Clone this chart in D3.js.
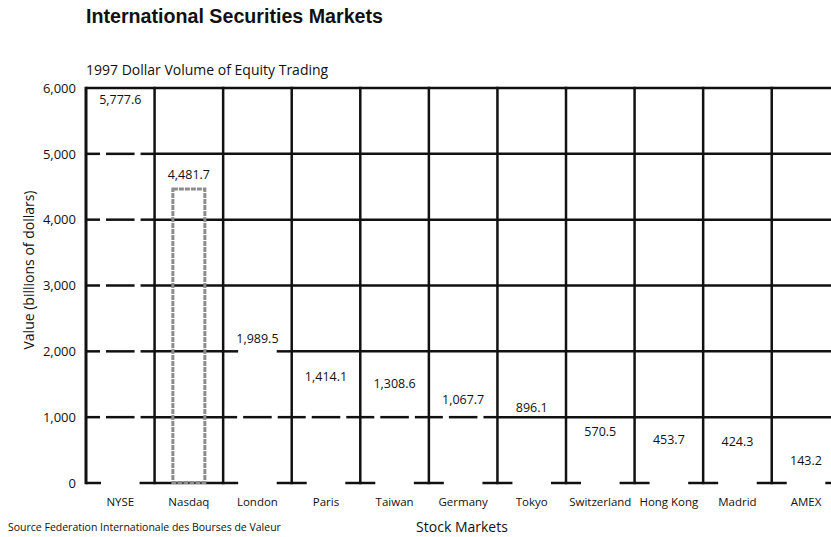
<!DOCTYPE html>
<html>
<head>
<meta charset="utf-8">
<script src="https://cdn.jsdelivr.net/npm/d3@7"></script>
<style>
  body { margin: 0; background: #fff; }
  svg { display: block; }
  text { font-family: "Open Sans", sans-serif; fill: #111; }
</style>
</head>
<body>
<svg id="chart" width="831" height="537"></svg>
<script>
// 1997 dollar volume of equity trading (billions of dollars)
let markets = ["NYSE", "Nasdaq", "London", "Paris", "Taiwan", "Germany", "Tokyo",
               "Switzerland", "Hong Kong", "Madrid", "AMEX"];
let volumes = [5777.6, 4481.7, 1989.5, 1414.1, 1308.6, 1067.7, 896.1, 570.5, 453.7, 424.3, 143.2];
let yTicks = [0, 1000, 2000, 3000, 4000, 5000, 6000];
let highlighted = "Nasdaq";

let svg = d3.select("#chart");
let fmt = d3.format(",.1f");

// scales
let x = d3.scaleBand().domain(markets).range([86, 840.3]);
let y = d3.scaleLinear().domain([0, 6000]).range([483, 88]);
let bw = x.bandwidth();
let data = markets.map(function(m, i) { return { name: m, value: volumes[i] }; });

// titles
svg.append("text")
    .text("International Securities Markets")
    .attr("x", 86).attr("y", 23)
    .attr("textLength", 297).attr("lengthAdjust", "spacingAndGlyphs")
    .style("font-family", "'Liberation Sans Narrow', 'Liberation Sans', sans-serif")
    .style("font-weight", "bold").style("font-size", "20px");
svg.append("text")
    .text("1997 Dollar Volume of Equity Trading")
    .attr("x", 86).attr("y", 75)
    .style("font-size", "14px");

// horizontal gridlines: solid above a bar, dashed inside it, stubs at its edges
let segments = [];
data.forEach(function(d) {
    let x0 = x(d.name), x1 = x0 + bw;
    let v = d.name === highlighted ? -1 : d.value;
    yTicks.forEach(function(t) {
        let yy = y(t);
        if (v >= 0 && (t === 0 || Math.abs(yy - y(v)) < 3)) {
            segments.push([x0, x0 + 15, yy], [x1 - 15, x1, yy]);
        } else if (t < v) {
            segments.push([x0, x0 + 14, yy], [x0 + 20, x1 - 20, yy], [x1 - 14, x1, yy]);
        } else {
            segments.push([x0, x1, yy]);
        }
    });
});
svg.append("g").attr("class", "grid")
    .selectAll("line")
    .data(segments)
    .enter()
        .append("line")
        .attr("x1", function(s) { return s[0]; })
        .attr("x2", function(s) { return s[1]; })
        .attr("y1", function(s) { return s[2]; })
        .attr("y2", function(s) { return s[2]; })
        .attr("stroke", "#111")
        .attr("stroke-width", 2.5);

// vertical dividers between markets
let edges = markets.map(function(m) { return x(m); }).concat([x.range()[1]]);
svg.append("g").attr("class", "dividers")
    .selectAll("line")
    .data(edges)
    .enter()
        .append("line")
        .attr("x1", function(e) { return e; })
        .attr("x2", function(e) { return e; })
        .attr("y1", y(6000) - 1.25)
        .attr("y2", y(0) + 1.25)
        .attr("stroke", "#111")
        .attr("stroke-width", function(e, i) { return i === 0 ? 3 : 2.5; });

// highlighted bar is outlined in grey stipple
let hl = data.filter(function(d) { return d.name === highlighted; });
svg.append("g").attr("class", "highlight")
    .selectAll("rect")
    .data(hl)
    .enter()
        .append("rect")
        .attr("x", function(d) { return x(d.name) + bw / 2 - 16; })
        .attr("width", 32)
        .attr("y", function(d) { return y(d.value) + 1; })
        .attr("height", function(d) { return y(0) - y(d.value) - 1.5; })
        .attr("fill", "none")
        .attr("stroke", "#8c8c8c")
        .attr("stroke-width", 3)
        .attr("stroke-dasharray", "5,1");

// value labels just above each bar, kept clear of the gridlines
function labelBaseline(v) {
    let base = y(v) - 9;
    yTicks.forEach(function(t) {
        let ly = y(t);
        if (base - 10 < ly + 1.5 && base + 2 > ly - 1.5) {
            base = t === d3.max(yTicks) ? ly + 15.5 : ly - 5;
        }
    });
    return base;
}
svg.append("g").attr("class", "values")
    .selectAll("text")
    .data(data)
    .enter()
        .append("text")
        .text(function(d) { return fmt(d.value); })
        .attr("x", function(d) { return x(d.name) + bw / 2; })
        .attr("y", function(d) { return labelBaseline(d.value); })
        .attr("text-anchor", "middle")
        .style("font-size", "12.5px");

// axes (labels only)
let yAxis = svg.append("g")
    .attr("transform", "translate(86,0)")
    .call(d3.axisLeft(y).tickValues(yTicks).tickFormat(d3.format(",")).tickSize(0).tickPadding(10));
yAxis.select(".domain").remove();
yAxis.selectAll("text")
    .style("font-family", "'Open Sans', sans-serif")
    .style("font-size", "13px").attr("fill", "#111");

let xAxis = svg.append("g")
    .attr("transform", `translate(0,${y(0)})`)
    .call(d3.axisBottom(x).tickSize(0).tickPadding(15));
xAxis.select(".domain").remove();
xAxis.selectAll("text")
    .style("font-family", "'Open Sans', sans-serif")
    .style("font-size", "11.5px").attr("fill", "#111");

svg.append("text")
    .text("Value (billions of dollars)")
    .attr("transform", "translate(34,270) rotate(-90)")
    .attr("text-anchor", "middle")
    .style("font-size", "14px");
svg.append("text")
    .text("Stock Markets")
    .attr("x", 462).attr("y", 532)
    .attr("text-anchor", "middle")
    .style("font-size", "14px");
svg.append("text")
    .text("Source Federation Internationale des Bourses de Valeur")
    .attr("x", 8).attr("y", 531)
    .style("font-size", "10.5px");
</script>
</body>
</html>
